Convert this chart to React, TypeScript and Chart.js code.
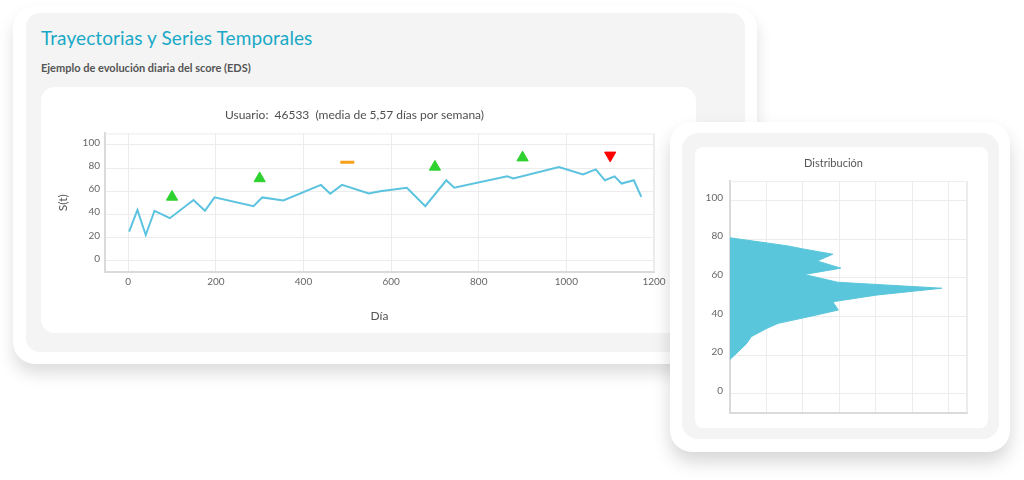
import React, { useEffect, useRef } from "react";
import { Chart, registerables } from "chart.js";

Chart.register(...registerables);

const FONT = "Lato, 'DejaVu Sans', sans-serif";

// Main time series
const seriesDays = [2, 21, 40, 60, 95, 149, 175, 197, 286, 306, 354, 440, 461, 488, 549, 575, 636, 678, 726, 744, 865, 879, 983, 1038, 1067, 1088, 1110, 1126, 1154, 1171];
const seriesScores = [25, 43.7, 22, 43, 36.6, 52.3, 43, 54.6, 47, 54.6, 52, 65.4, 57.7, 65.4, 58, 60, 63, 47, 69.4, 63, 72.8, 71, 80.8, 74.5, 78.8, 69.4, 72.8, 66.6, 69.4, 55];

// Event markers
const upDays = [100, 300, 700, 900];
const upScores = [55, 71, 81, 89];
const flatDays = [500];
const flatScores = [85];
const downDays = [1100];
const downScores = [91];

const mainXTicks = [0, 200, 400, 600, 800, 1000, 1200];
const scoreTicks = [0, 20, 40, 60, 80, 100];

// Distribution (density by score)
const distScores = [80.7, 76.5, 74.8, 72.2, 68.7, 65, 61.7, 59.5, 57.7, 54.6, 51.1, 47.6, 43.3, 40.3, 36.4, 33.7, 29.6, 25.6, 17.7];
const distDensity = [0, 0.0159, 0.0204, 0.0282, 0.0239, 0.0304, 0.0204, 0.0254, 0.0295, 0.0581, 0.0404, 0.0282, 0.0297, 0.0227, 0.0132, 0.01, 0.0059, 0.0044, 0];
const distXTicks = [0, 0.01, 0.02, 0.03, 0.04, 0.05, 0.06, 0.065];

const mainTitle = "Usuario:  46533  (media de 5,57 días por semana)";
const distTitle = "Distribución";

const frame = {
  id: "frame",
  beforeDatasetsDraw(chart: any) {
    const { ctx, chartArea: a } = chart;
    ctx.save();
    ctx.strokeStyle = "#ececec";
    ctx.lineWidth = 1;
    ctx.beginPath();
    ctx.moveTo(a.left, a.top + 0.5);
    ctx.lineTo(a.right - 0.5, a.top + 0.5);
    ctx.lineTo(a.right - 0.5, a.bottom);
    ctx.stroke();
    ctx.restore();
  },
};

const LINE = "#5bc3df";
const plain = (v: any) => String(v);

function MainChart() {
  const ref = useRef<HTMLCanvasElement>(null);
  useEffect(() => {
    const chart = new Chart(ref.current!, {
      type: "scatter",
      data: {
        datasets: [
          {
            data: seriesDays.map((d, i) => ({ x: d, y: seriesScores[i] })),
            showLine: true,
            borderColor: LINE,
            borderWidth: 2,
            pointRadius: 0,
            tension: 0,
          },
          {
            data: upDays.map((d, i) => ({ x: d, y: upScores[i] })),
            pointStyle: "triangle",
            pointRadius: 6.5,
            backgroundColor: "#2ed12e",
            borderColor: "#2ed12e",
            borderWidth: 1,
          },
          {
            data: flatDays.map((d, i) => ({ x: d, y: flatScores[i] })),
            pointStyle: "line",
            pointRadius: 7,
            borderColor: "#f7a11a",
            borderWidth: 3,
          },
          {
            data: downDays.map((d, i) => ({ x: d, y: downScores[i] })),
            pointStyle: "triangle",
            rotation: 180,
            pointRadius: 6.5,
            backgroundColor: "#ff0000",
            borderColor: "#ff0000",
            borderWidth: 1,
          } as any,
        ],
      },
      options: {
        responsive: false,
        animation: false,
        layout: { padding: { left: 14, right: 42, top: 8, bottom: 0 } },
        plugins: {
          legend: { display: false },
          tooltip: { enabled: false },
          title: {
            display: true,
            text: mainTitle,
            color: "#4f4f4f",
            font: { family: FONT, size: 12, weight: "normal" },
            padding: { top: 13, bottom: 11 },
          },
        },
        scales: {
          x: {
            type: "linear",
            min: -53,
            max: 1200,
            afterBuildTicks: (a: any) => {
              a.ticks = mainXTicks.map((v) => ({ value: v }));
            },
            afterFit: (s: any) => {
              s.height = 61;
            },
            grid: { color: "#ececec", drawTicks: false },
            border: { color: "#dadada", width: 2 },
            ticks: { color: "#666", font: { family: FONT, size: 10 }, padding: 4, maxRotation: 0, callback: plain },
            title: {
              display: true,
              text: "Día",
              color: "#555",
              font: { family: FONT, size: 12 },
              padding: { top: 0, bottom: 10 },
            },
          },
          y: {
            type: "linear",
            min: -10,
            max: 110,
            afterBuildTicks: (a: any) => {
              a.ticks = scoreTicks.map((v) => ({ value: v }));
            },
            afterFit: (s: any) => {
              s.width = 50;
            },
            grid: { color: "#ececec", drawTicks: false },
            border: { color: "#dadada", width: 2 },
            ticks: { color: "#666", font: { family: FONT, size: 10 }, padding: 5, labelOffset: -2, callback: plain },
            title: {
              display: true,
              text: "S(t)",
              color: "#555",
              font: { family: FONT, size: 12 },
              padding: { top: 1, bottom: 0 },
            },
          },
        },
      } as any,
      plugins: [frame],
    });
    return () => chart.destroy();
  }, []);
  return <canvas ref={ref} width={655} height={246} style={{ width: 655, height: 246, display: "block" }} />;
}

function DistChart() {
  const ref = useRef<HTMLCanvasElement>(null);
  useEffect(() => {
    const chart = new Chart(ref.current!, {
      type: "line",
      data: {
        datasets: [
          {
            data: distScores.map((s, i) => ({ x: distDensity[i], y: s })),
            borderColor: "#5ac6db",
            backgroundColor: "#5ac6db",
            borderWidth: 1,
            pointRadius: 0,
            tension: 0,
            fill: "origin",
          },
        ],
      },
      options: {
        responsive: false,
        animation: false,
        indexAxis: "y",
        layout: { padding: { left: 5, right: 21, top: 6, bottom: 15 } },
        plugins: {
          legend: { display: false },
          tooltip: { enabled: false },
          title: {
            display: true,
            text: distTitle,
            color: "#555",
            font: { family: FONT, size: 11, weight: "normal" },
            padding: { top: 4, bottom: 11 },
          },
        },
        scales: {
          x: {
            type: "linear",
            min: 0,
            max: 0.065,
            afterBuildTicks: (a: any) => {
              a.ticks = distXTicks.map((v) => ({ value: v }));
            },
            grid: { color: "#ececec", drawTicks: false },
            border: { color: "#dadada", width: 2 },
            ticks: { display: false },
          },
          y: {
            type: "linear",
            min: -10,
            max: 110,
            afterBuildTicks: (a: any) => {
              a.ticks = scoreTicks.map((v) => ({ value: v }));
            },
            afterFit: (s: any) => {
              s.width = 30;
            },
            grid: { color: "#ececec", drawTicks: false },
            border: { color: "#dadada", width: 2 },
            ticks: { color: "#666", font: { family: FONT, size: 10 }, padding: 7, labelOffset: -3, callback: plain },
          },
        },
      } as any,
      plugins: [frame],
    });
    return () => chart.destroy();
  }, []);
  return <canvas ref={ref} width={293} height={281} style={{ width: 293, height: 281, display: "block" }} />;
}

const abs = (l: number, t: number, w: number, h: number, extra: React.CSSProperties = {}): React.CSSProperties => ({
  position: "absolute",
  left: l,
  top: t,
  width: w,
  height: h,
  boxSizing: "border-box",
  ...extra,
});

export default function App() {
  return (
    <div
      style={{
        position: "fixed",
        left: 0,
        top: 0,
        width: 1024,
        height: 480,
        background: "#fff",
        overflow: "hidden",
        fontFamily: FONT,
      }}
    >
      {/* Left card */}
      <div style={abs(13, 6, 744, 358, { background: "#fff", borderRadius: 22, boxShadow: "0 10px 16px rgba(0,0,0,0.13)" })} />
      <div style={abs(26, 13, 719, 339, { background: "#f4f4f4", borderRadius: 14 })} />
      <div style={abs(41, 25, 600, 26, { color: "#19a9c6", fontSize: 19, lineHeight: "26px", whiteSpace: "nowrap", letterSpacing: 0.1 })}>
        Trayectorias y Series Temporales
      </div>
      <div style={abs(41, 60, 400, 16, { color: "#555", fontSize: 11, fontWeight: 700, lineHeight: "16px", whiteSpace: "nowrap" })}>
        Ejemplo de evolución diaria del score (EDS)
      </div>
      <div style={abs(41, 87, 655, 246, { background: "#fff", borderRadius: 14, overflow: "hidden" })}>
        <MainChart />
      </div>

      {/* Right card */}
      <div style={abs(670, 122, 340, 330, { background: "#fff", borderRadius: 22, boxShadow: "0 10px 18px rgba(0,0,0,0.16)" })} />
      <div style={abs(682, 133, 317, 306, { background: "#f4f4f4", borderRadius: 16 })} />
      <div style={abs(695, 147, 293, 281, { background: "#fff", borderRadius: 8, overflow: "hidden" })}>
        <DistChart />
      </div>
    </div>
  );
}
